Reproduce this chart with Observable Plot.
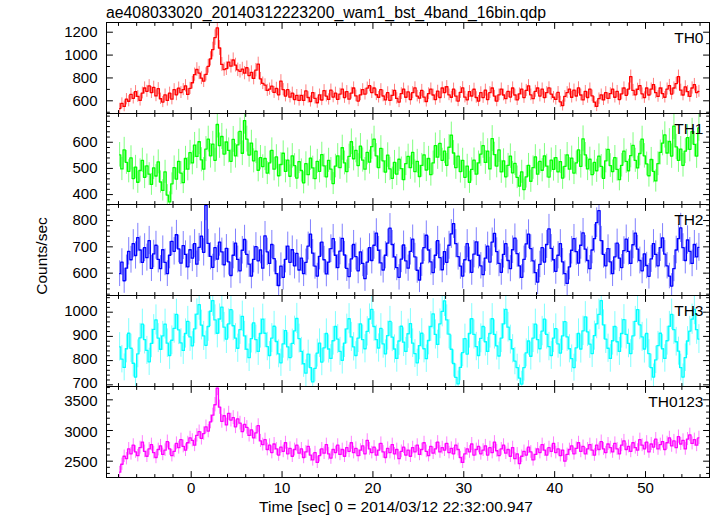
<!DOCTYPE html>
<html><head><meta charset="utf-8">
<script src="https://cdn.jsdelivr.net/npm/d3@7"></script>
<script src="https://cdn.jsdelivr.net/npm/@observablehq/plot@0.6"></script>
<style>
body{margin:0;background:#fff;font-family:"Liberation Sans",Arial,sans-serif;}
#chart{position:relative;width:717px;height:516px;overflow:hidden;}
#chart > svg.panel{position:absolute;left:0;}
#labels{position:absolute;left:0;top:0;}
</style></head><body>
<div id="chart">
<svg id="labels" width="717" height="516" font-family="Liberation Sans, Arial, sans-serif">
<text x="106" y="18" font-size="15.8">ae408033020_20140312223200_wam1_bst_4band_16bin.qdp</text>
<text transform="translate(47,256) rotate(-90)" text-anchor="middle" font-size="15.5">Counts/sec</text>
<text x="396" y="512" text-anchor="middle" font-size="15.5">Time [sec] 0 = 2014/03/12 22:32:00.947</text>
</svg>
</div>
<script>
// time binning of the light curve (sec)
const tStart = -8;
const binSec = 0.25;
const xTicks = [0, 10, 20, 30, 40, 50];

const yTicksTH0 = [600, 800, 1000, 1200];
const yTicksTH1 = [400, 500, 600];
const yTicksTH2 = [600, 700, 800];
const yTicksTH3 = [700, 800, 900, 1000];
const yTicksTH0123 = [2500, 3000, 3500];

const th0 = [
532,578,551,614,596,657,622,681,638,603,668,712,683,731,672,718,
643,706,618,589,652,603,668,614,697,652,711,672,698,731,656,709,
758,829,874,843,798,772,831,902,967,1048,1153,1238,1062,918,873,881,
938,903,957,912,871,858,878,842,889,821,848,796,868,921,792,753,
738,691,702,728,673,709,652,773,698,641,697,632,668,611,648,603,
648,603,687,629,594,671,622,583,652,607,689,641,612,694,633,668,
612,659,703,628,681,614,667,712,643,598,652,697,658,711,733,672,
712,653,631,697,642,608,671,603,648,692,621,589,663,702,631,678,
611,672,713,641,623,691,632,594,662,703,651,611,684,629,712,671,
723,652,631,702,641,598,673,714,632,609,681,642,701,629,598,671,
628,693,611,672,712,641,597,652,703,651,619,682,633,712,651,608,
661,702,628,691,731,652,619,683,712,641,703,628,672,713,659,631,
612,673,591,558,639,672,703,631,694,642,713,651,608,682,629,703,
643,588,552,619,652,608,672,621,663,703,631,682,611,661,712,648,
703,812,691,652,701,733,661,628,712,651,703,742,671,638,712,663,
631,703,733,659,712,751,812,693,651,722,681,639,712,741,672,683
];
const th1 = [
552,498,571,523,489,540,461,505,447,492,531,466,510,478,439,502,
471,525,448,416,487,398,372,441,503,459,527,482,446,538,497,560,
521,589,546,602,533,497,574,612,548,593,531,668,587,622,555,601,
569,527,611,548,590,642,558,683,612,551,597,529,566,493,541,507,
538,482,521,569,497,544,472,515,558,489,532,470,548,511,463,526,
492,445,518,476,539,502,461,527,489,553,510,468,531,497,442,509,
548,503,579,521,488,546,602,537,569,511,585,532,497,561,524,583,
612,548,503,577,529,486,551,498,462,523,478,535,499,457,518,546,
503,561,488,527,469,512,552,494,538,476,521,587,543,596,531,566,
512,581,627,559,503,547,488,531,466,509,447,496,532,478,521,555,
587,523,566,498,614,553,509,571,487,529,468,512,547,483,519,466,
432,487,419,468,512,451,503,544,478,527,493,548,509,467,532,496,
541,487,526,463,508,552,497,539,482,521,571,508,613,552,498,535,
476,523,491,547,508,462,529,573,511,488,541,496,457,512,566,527,
491,549,588,531,502,557,612,548,517,472,534,489,452,518,561,597,
628,559,603,547,662,582,531,574,512,566,618,573,641,592,547,655
];
const th2 = [
598,642,571,619,683,651,712,667,735,688,641,697,659,724,618,673,
706,652,617,689,641,598,668,721,683,746,692,638,705,671,624,689,
657,712,634,698,741,679,858,713,664,622,697,653,718,681,632,694,
643,591,668,714,652,609,687,728,671,634,589,652,701,647,688,619,
742,681,637,709,655,598,553,627,584,652,703,641,689,628,675,612,
657,598,641,703,748,676,627,589,664,718,651,597,642,693,731,668,
621,684,732,669,618,587,654,709,663,609,681,637,579,642,697,648,
706,752,687,639,612,668,714,771,709,662,621,584,653,707,647,619,
683,729,662,611,574,638,697,744,688,643,602,668,724,659,613,682,
641,706,749,788,712,663,627,589,651,712,648,603,672,719,668,628,
594,657,703,642,718,751,682,637,603,671,712,648,617,689,733,674,
628,584,652,711,748,693,647,602,566,633,697,642,709,768,694,651,
607,668,712,643,598,561,624,687,731,682,638,706,753,691,648,617,
688,731,792,838,724,671,628,693,643,598,662,714,657,621,686,729,
683,637,708,752,691,648,609,673,629,588,654,712,671,628,697,734,
672,628,589,551,617,688,731,772,697,648,726,683,637,709,662,698
];
const th3 = [
857,806,772,849,913,851,789,732,828,894,951,887,842,795,871,929,
968,893,847,902,951,872,821,884,933,991,927,873,842,912,962,898,
861,931,992,1031,947,902,863,941,1004,1048,968,913,972,1021,938,889,
952,1011,944,893,851,928,983,902,847,812,891,956,887,838,912,971,
913,858,821,893,942,879,828,791,869,924,857,812,871,923,974,891,
838,787,748,827,771,712,768,831,872,794,853,912,848,809,882,941,
889,838,801,872,931,973,898,857,821,893,952,887,849,921,972,1012,
941,887,852,933,869,828,903,962,897,848,809,881,942,876,838,911,
953,872,829,791,862,913,849,808,883,941,993,908,867,952,1003,1047,
968,909,847,788,731,704,772,833,891,827,912,973,908,858,821,892,
941,878,838,912,973,908,861,819,893,952,1012,938,887,849,798,771,
728,703,771,832,881,818,893,951,887,849,922,971,908,858,821,893,
932,869,831,902,961,898,849,808,771,853,912,848,923,981,919,868,
829,903,952,991,1048,948,889,851,809,882,941,878,838,912,969,908,
871,829,902,962,1011,948,898,848,912,829,771,732,803,862,913,849,
809,882,942,991,928,878,839,771,732,812,881,922,971,1012,928,889
];
const th0123 = [
2320,2450,2580,2540,2700,2620,2760,2650,2590,2720,2810,2660,2580,2700,2770,2640,
2560,2690,2750,2610,2680,2820,2700,2590,2660,2790,2720,2850,2740,2680,2800,2880,
2840,2760,2920,2980,2870,2950,3060,2990,3140,3250,3420,3690,3380,3150,3240,3090,
3280,3170,3210,3060,3190,3120,2980,3100,3050,2920,3010,2880,2960,3080,2830,2770,
2850,2690,2760,2640,2780,2700,2600,2730,2660,2800,2620,2710,2580,2690,2760,2630,
2700,2560,2650,2740,2600,2520,2640,2480,2590,2700,2630,2770,2620,2550,2690,2640,
2760,2610,2690,2580,2720,2660,2800,2640,2710,2590,2680,2750,2620,2840,2700,2640,
2730,2600,2680,2790,2650,2560,2710,2640,2770,2620,2690,2540,2660,2730,2600,2680,
2580,2720,2650,2760,2610,2690,2800,2660,2590,2740,2630,2700,2810,2650,2720,2680,
2790,2640,2710,2620,2760,2690,2560,2480,2620,2700,2650,2780,2600,2690,2740,2620,
2680,2750,2600,2720,2640,2810,2670,2590,2700,2760,2630,2690,2580,2720,2540,2620,
2460,2580,2660,2600,2730,2650,2520,2610,2700,2640,2770,2680,2600,2720,2660,2790,
2640,2700,2590,2680,2500,2610,2690,2750,2620,2710,2800,2660,2740,2620,2700,2770,
2680,2600,2760,2690,2820,2700,2640,2780,2720,2650,2790,2700,2620,2760,2830,2690,
2740,2660,2800,2720,2680,2850,2760,2700,2810,2650,2780,2730,2860,2700,2770,2820,
2690,2800,2880,2750,2830,2720,2900,2780,2840,2700,2860,2930,2790,2850,2760,2880
];

const panels = [
  {name: "TH0", values: th0, color: "#ff0000", domain: [489, 1285], major: yTicksTH0, minor: 100, labelDy: 0},
  {name: "TH1", values: th1, color: "#00ff00", domain: [362, 710], major: yTicksTH1, minor: 20, labelDy: 0},
  {name: "TH2", values: th2, color: "#0000ff", domain: [515, 861], major: yTicksTH2, minor: 20, labelDy: 0},
  {name: "TH3", values: th3, color: "#00ffff", domain: [693, 1069], major: yTicksTH3, minor: 20, labelDy: -1.5},
  {name: "TH0123", values: th0123, color: "#ff00ff", domain: [2234, 3717], major: yTicksTH0123, minor: 100, labelDy: 1.5}
];

const xDomain = [-9.32, 57.04];
const panelTop = 22, panelH = 91, bottomExtra = 40;
const chart = document.getElementById("chart");
const minorX = d3.range(-8, 57, 2).filter(d => !xTicks.includes(d));
const tickShape = {draw(context, l) { context.moveTo(0, 0); context.lineTo(0, -l); }};
const fmt = d => String(d);

panels.forEach((p, i) => {
  const last = i === panels.length - 1;
  const rows = p.values.map((v, k) => {
    const e = Math.sqrt(v / binSec);
    return {t: tStart + (k + 0.5) * binSec, v, lo: v - e, hi: v + e};
  });
  const minorY = d3.range(Math.ceil(p.domain[0] / p.minor) * p.minor, p.domain[1], p.minor)
    .filter(d => !p.major.includes(d));
  const [y0, y1] = p.domain;
  // inward ticks on all four sides of each panel
  const yt = (ticks, len, side) => Plot.vector(ticks, {
    x: () => side === "left" ? xDomain[0] : xDomain[1], y: d => d,
    length: len, rotate: side === "left" ? 90 : 270, anchor: "start",
    shape: tickShape, stroke: "black", strokeWidth: 1
  });
  const xt = (ticks, len, side) => Plot.vector(ticks, {
    x: d => d, y: () => side === "bottom" ? y0 : y1,
    length: len, rotate: side === "bottom" ? 0 : 180, anchor: "start",
    shape: tickShape, stroke: "black", strokeWidth: 1
  });
  const marks = [
    Plot.ruleX(rows, {x: "t", y1: "lo", y2: "hi", stroke: p.color, strokeOpacity: 0.5, clip: true}),
    Plot.line(rows, {x: "t", y: "v", curve: "step", stroke: p.color, strokeWidth: 1.3, clip: true}),
    yt(p.major, 6, "left"), yt(minorY, 3, "left"),
    yt(p.major, 6, "right"), yt(minorY, 3, "right"),
    xt(xTicks, 6, "bottom"), xt(minorX, 3, "bottom"),
    xt(xTicks, 6, "top"), xt(minorX, 3, "top"),
    Plot.axisY({anchor: "left", ticks: p.major, tickSize: 0, tickPadding: 9, tickFormat: fmt, label: null, dy: p.labelDy}),
    Plot.frame({stroke: "black"}),
    Plot.text([p.name], {frameAnchor: "top-right", dx: -6, dy: 9, lineAnchor: "top", textAnchor: "end", fontSize: 15.5})
  ];
  if (last) marks.push(Plot.axisX({anchor: "bottom", ticks: xTicks, tickSize: 0, tickPadding: 5, tickFormat: fmt, label: null}));
  const svg = Plot.plot({
    width: 717,
    height: panelH + (last ? bottomExtra : 0),
    marginLeft: 106, marginRight: 8, marginTop: 0, marginBottom: last ? bottomExtra : 0,
    x: {domain: xDomain, axis: null},
    y: {domain: p.domain, axis: null},
    style: {fontFamily: "Liberation Sans, Arial, sans-serif", fontSize: "15px", background: "transparent", overflow: "visible", color: "black"},
    marks
  });
  svg.classList.add("panel");
  svg.style.top = (panelTop + i * panelH) + "px";
  chart.appendChild(svg);
});
</script>
</body></html>
